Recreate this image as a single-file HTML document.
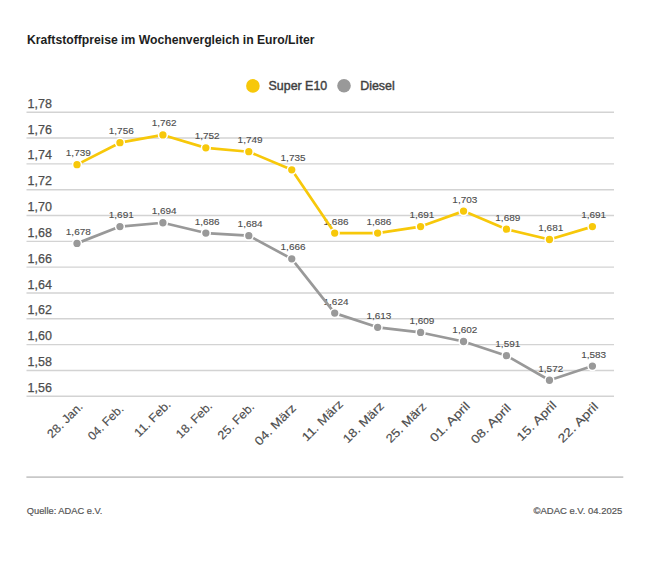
<!DOCTYPE html><html><head><meta charset="utf-8"><style>html,body{margin:0;padding:0;background:#fff;width:650px;height:570px;overflow:hidden}svg{display:block;font-family:"Liberation Sans",sans-serif}</style></head><body>
<svg width="650" height="570" viewBox="0 0 650 570">
<rect width="650" height="570" fill="#fff"/>
<text x="27.0" y="43.8" font-size="12" font-weight="bold" fill="#1e1e1e" textLength="287.5" lengthAdjust="spacingAndGlyphs">Kraftstoffpreise im Wochenvergleich in Euro/Liter</text>
<circle cx="252.9" cy="85.9" r="6.8" fill="#f7c80a"/>
<text x="268.6" y="90.1" font-size="12" fill="#3f3f3f" stroke="#3f3f3f" stroke-width="0.4" textLength="58.6" lengthAdjust="spacingAndGlyphs">Super E10</text>
<circle cx="344" cy="85.8" r="6.8" fill="#999999"/>
<text x="360.2" y="90.1" font-size="12" fill="#3f3f3f" stroke="#3f3f3f" stroke-width="0.4" textLength="34.6" lengthAdjust="spacingAndGlyphs">Diesel</text>
<line x1="26.5" y1="112.25" x2="614" y2="112.25" stroke="#d3d3d3" stroke-width="1.4"/>
<text x="27.6" y="107.80" font-size="12.5" fill="#4d4d4d" stroke="#4d4d4d" stroke-width="0.25">1,78</text>
<line x1="26.5" y1="138.07" x2="614" y2="138.07" stroke="#d3d3d3" stroke-width="1.4"/>
<text x="27.6" y="133.62" font-size="12.5" fill="#4d4d4d" stroke="#4d4d4d" stroke-width="0.25">1,76</text>
<line x1="26.5" y1="163.89" x2="614" y2="163.89" stroke="#d3d3d3" stroke-width="1.4"/>
<text x="27.6" y="159.44" font-size="12.5" fill="#4d4d4d" stroke="#4d4d4d" stroke-width="0.25">1,74</text>
<line x1="26.5" y1="189.71" x2="614" y2="189.71" stroke="#d3d3d3" stroke-width="1.4"/>
<text x="27.6" y="185.26" font-size="12.5" fill="#4d4d4d" stroke="#4d4d4d" stroke-width="0.25">1,72</text>
<line x1="26.5" y1="215.53" x2="614" y2="215.53" stroke="#d3d3d3" stroke-width="1.4"/>
<text x="27.6" y="211.08" font-size="12.5" fill="#4d4d4d" stroke="#4d4d4d" stroke-width="0.25">1,70</text>
<line x1="26.5" y1="241.35" x2="614" y2="241.35" stroke="#d3d3d3" stroke-width="1.4"/>
<text x="27.6" y="236.90" font-size="12.5" fill="#4d4d4d" stroke="#4d4d4d" stroke-width="0.25">1,68</text>
<line x1="26.5" y1="267.17" x2="614" y2="267.17" stroke="#d3d3d3" stroke-width="1.4"/>
<text x="27.6" y="262.72" font-size="12.5" fill="#4d4d4d" stroke="#4d4d4d" stroke-width="0.25">1,66</text>
<line x1="26.5" y1="292.99" x2="614" y2="292.99" stroke="#d3d3d3" stroke-width="1.4"/>
<text x="27.6" y="288.54" font-size="12.5" fill="#4d4d4d" stroke="#4d4d4d" stroke-width="0.25">1,64</text>
<line x1="26.5" y1="318.81" x2="614" y2="318.81" stroke="#d3d3d3" stroke-width="1.4"/>
<text x="27.6" y="314.36" font-size="12.5" fill="#4d4d4d" stroke="#4d4d4d" stroke-width="0.25">1,62</text>
<line x1="26.5" y1="344.63" x2="614" y2="344.63" stroke="#d3d3d3" stroke-width="1.4"/>
<text x="27.6" y="340.18" font-size="12.5" fill="#4d4d4d" stroke="#4d4d4d" stroke-width="0.25">1,60</text>
<line x1="26.5" y1="370.45" x2="614" y2="370.45" stroke="#d3d3d3" stroke-width="1.4"/>
<text x="27.6" y="366.00" font-size="12.5" fill="#4d4d4d" stroke="#4d4d4d" stroke-width="0.25">1,58</text>
<line x1="26.5" y1="396.27" x2="614" y2="396.27" stroke="#d3d3d3" stroke-width="1.4"/>
<text x="27.6" y="391.82" font-size="12.5" fill="#4d4d4d" stroke="#4d4d4d" stroke-width="0.25">1,56</text>
<text x="78.30" y="156.13" font-size="9.2" fill="#4d4d4d" text-anchor="middle" stroke="#4d4d4d" stroke-width="0.12" textLength="25" lengthAdjust="spacingAndGlyphs">1,739</text>
<text x="121.25" y="134.18" font-size="9.2" fill="#4d4d4d" text-anchor="middle" stroke="#4d4d4d" stroke-width="0.12" textLength="25" lengthAdjust="spacingAndGlyphs">1,756</text>
<text x="164.20" y="126.44" font-size="9.2" fill="#4d4d4d" text-anchor="middle" stroke="#4d4d4d" stroke-width="0.12" textLength="25" lengthAdjust="spacingAndGlyphs">1,762</text>
<text x="207.15" y="139.35" font-size="9.2" fill="#4d4d4d" text-anchor="middle" stroke="#4d4d4d" stroke-width="0.12" textLength="25" lengthAdjust="spacingAndGlyphs">1,752</text>
<text x="250.10" y="143.22" font-size="9.2" fill="#4d4d4d" text-anchor="middle" stroke="#4d4d4d" stroke-width="0.12" textLength="25" lengthAdjust="spacingAndGlyphs">1,749</text>
<text x="293.05" y="161.29" font-size="9.2" fill="#4d4d4d" text-anchor="middle" stroke="#4d4d4d" stroke-width="0.12" textLength="25" lengthAdjust="spacingAndGlyphs">1,735</text>
<text x="336.00" y="224.55" font-size="9.2" fill="#4d4d4d" text-anchor="middle" stroke="#4d4d4d" stroke-width="0.12" textLength="25" lengthAdjust="spacingAndGlyphs">1,686</text>
<text x="378.95" y="224.55" font-size="9.2" fill="#4d4d4d" text-anchor="middle" stroke="#4d4d4d" stroke-width="0.12" textLength="25" lengthAdjust="spacingAndGlyphs">1,686</text>
<text x="421.90" y="218.10" font-size="9.2" fill="#4d4d4d" text-anchor="middle" stroke="#4d4d4d" stroke-width="0.12" textLength="25" lengthAdjust="spacingAndGlyphs">1,691</text>
<text x="464.85" y="202.61" font-size="9.2" fill="#4d4d4d" text-anchor="middle" stroke="#4d4d4d" stroke-width="0.12" textLength="25" lengthAdjust="spacingAndGlyphs">1,703</text>
<text x="507.80" y="220.68" font-size="9.2" fill="#4d4d4d" text-anchor="middle" stroke="#4d4d4d" stroke-width="0.12" textLength="25" lengthAdjust="spacingAndGlyphs">1,689</text>
<text x="550.75" y="231.01" font-size="9.2" fill="#4d4d4d" text-anchor="middle" stroke="#4d4d4d" stroke-width="0.12" textLength="25" lengthAdjust="spacingAndGlyphs">1,681</text>
<text x="593.70" y="218.10" font-size="9.2" fill="#4d4d4d" text-anchor="middle" stroke="#4d4d4d" stroke-width="0.12" textLength="25" lengthAdjust="spacingAndGlyphs">1,691</text>
<text x="78.30" y="234.88" font-size="9.2" fill="#4d4d4d" text-anchor="middle" stroke="#4d4d4d" stroke-width="0.12" textLength="25" lengthAdjust="spacingAndGlyphs">1,678</text>
<text x="121.25" y="218.10" font-size="9.2" fill="#4d4d4d" text-anchor="middle" stroke="#4d4d4d" stroke-width="0.12" textLength="25" lengthAdjust="spacingAndGlyphs">1,691</text>
<text x="164.20" y="214.23" font-size="9.2" fill="#4d4d4d" text-anchor="middle" stroke="#4d4d4d" stroke-width="0.12" textLength="25" lengthAdjust="spacingAndGlyphs">1,694</text>
<text x="207.15" y="224.55" font-size="9.2" fill="#4d4d4d" text-anchor="middle" stroke="#4d4d4d" stroke-width="0.12" textLength="25" lengthAdjust="spacingAndGlyphs">1,686</text>
<text x="250.10" y="227.14" font-size="9.2" fill="#4d4d4d" text-anchor="middle" stroke="#4d4d4d" stroke-width="0.12" textLength="25" lengthAdjust="spacingAndGlyphs">1,684</text>
<text x="293.05" y="250.37" font-size="9.2" fill="#4d4d4d" text-anchor="middle" stroke="#4d4d4d" stroke-width="0.12" textLength="25" lengthAdjust="spacingAndGlyphs">1,666</text>
<text x="336.00" y="304.60" font-size="9.2" fill="#4d4d4d" text-anchor="middle" stroke="#4d4d4d" stroke-width="0.12" textLength="25" lengthAdjust="spacingAndGlyphs">1,624</text>
<text x="378.95" y="318.80" font-size="9.2" fill="#4d4d4d" text-anchor="middle" stroke="#4d4d4d" stroke-width="0.12" textLength="25" lengthAdjust="spacingAndGlyphs">1,613</text>
<text x="421.90" y="323.96" font-size="9.2" fill="#4d4d4d" text-anchor="middle" stroke="#4d4d4d" stroke-width="0.12" textLength="25" lengthAdjust="spacingAndGlyphs">1,609</text>
<text x="464.85" y="333.00" font-size="9.2" fill="#4d4d4d" text-anchor="middle" stroke="#4d4d4d" stroke-width="0.12" textLength="25" lengthAdjust="spacingAndGlyphs">1,602</text>
<text x="507.80" y="347.20" font-size="9.2" fill="#4d4d4d" text-anchor="middle" stroke="#4d4d4d" stroke-width="0.12" textLength="25" lengthAdjust="spacingAndGlyphs">1,591</text>
<text x="550.75" y="371.73" font-size="9.2" fill="#4d4d4d" text-anchor="middle" stroke="#4d4d4d" stroke-width="0.12" textLength="25" lengthAdjust="spacingAndGlyphs">1,572</text>
<text x="593.70" y="357.53" font-size="9.2" fill="#4d4d4d" text-anchor="middle" stroke="#4d4d4d" stroke-width="0.12" textLength="25" lengthAdjust="spacingAndGlyphs">1,583</text>
<polyline points="77.00,164.63 119.95,142.68 162.90,134.94 205.85,147.85 248.80,151.72 291.75,169.79 334.70,233.05 377.65,233.05 420.60,226.60 463.55,211.11 506.50,229.18 549.45,239.51 592.40,226.60" fill="none" stroke="#f7c80a" stroke-width="2.7" stroke-linejoin="round"/>
<circle cx="77.00" cy="164.63" r="4.4" fill="#f7c80a" stroke="#fff" stroke-width="1.5"/>
<circle cx="119.95" cy="142.68" r="4.4" fill="#f7c80a" stroke="#fff" stroke-width="1.5"/>
<circle cx="162.90" cy="134.94" r="4.4" fill="#f7c80a" stroke="#fff" stroke-width="1.5"/>
<circle cx="205.85" cy="147.85" r="4.4" fill="#f7c80a" stroke="#fff" stroke-width="1.5"/>
<circle cx="248.80" cy="151.72" r="4.4" fill="#f7c80a" stroke="#fff" stroke-width="1.5"/>
<circle cx="291.75" cy="169.79" r="4.4" fill="#f7c80a" stroke="#fff" stroke-width="1.5"/>
<circle cx="334.70" cy="233.05" r="4.4" fill="#f7c80a" stroke="#fff" stroke-width="1.5"/>
<circle cx="377.65" cy="233.05" r="4.4" fill="#f7c80a" stroke="#fff" stroke-width="1.5"/>
<circle cx="420.60" cy="226.60" r="4.4" fill="#f7c80a" stroke="#fff" stroke-width="1.5"/>
<circle cx="463.55" cy="211.11" r="4.4" fill="#f7c80a" stroke="#fff" stroke-width="1.5"/>
<circle cx="506.50" cy="229.18" r="4.4" fill="#f7c80a" stroke="#fff" stroke-width="1.5"/>
<circle cx="549.45" cy="239.51" r="4.4" fill="#f7c80a" stroke="#fff" stroke-width="1.5"/>
<circle cx="592.40" cy="226.60" r="4.4" fill="#f7c80a" stroke="#fff" stroke-width="1.5"/>
<polyline points="77.00,243.38 119.95,226.60 162.90,222.73 205.85,233.05 248.80,235.64 291.75,258.87 334.70,313.10 377.65,327.30 420.60,332.46 463.55,341.50 506.50,355.70 549.45,380.23 592.40,366.03" fill="none" stroke="#999999" stroke-width="2.7" stroke-linejoin="round"/>
<circle cx="77.00" cy="243.38" r="4.4" fill="#999999" stroke="#fff" stroke-width="1.5"/>
<circle cx="119.95" cy="226.60" r="4.4" fill="#999999" stroke="#fff" stroke-width="1.5"/>
<circle cx="162.90" cy="222.73" r="4.4" fill="#999999" stroke="#fff" stroke-width="1.5"/>
<circle cx="205.85" cy="233.05" r="4.4" fill="#999999" stroke="#fff" stroke-width="1.5"/>
<circle cx="248.80" cy="235.64" r="4.4" fill="#999999" stroke="#fff" stroke-width="1.5"/>
<circle cx="291.75" cy="258.87" r="4.4" fill="#999999" stroke="#fff" stroke-width="1.5"/>
<circle cx="334.70" cy="313.10" r="4.4" fill="#999999" stroke="#fff" stroke-width="1.5"/>
<circle cx="377.65" cy="327.30" r="4.4" fill="#999999" stroke="#fff" stroke-width="1.5"/>
<circle cx="420.60" cy="332.46" r="4.4" fill="#999999" stroke="#fff" stroke-width="1.5"/>
<circle cx="463.55" cy="341.50" r="4.4" fill="#999999" stroke="#fff" stroke-width="1.5"/>
<circle cx="506.50" cy="355.70" r="4.4" fill="#999999" stroke="#fff" stroke-width="1.5"/>
<circle cx="549.45" cy="380.23" r="4.4" fill="#999999" stroke="#fff" stroke-width="1.5"/>
<circle cx="592.40" cy="366.03" r="4.4" fill="#999999" stroke="#fff" stroke-width="1.5"/>
<text x="83.55" y="407.35" font-size="12" fill="#4d4d4d" stroke="#4d4d4d" stroke-width="0.15" text-anchor="end" textLength="44.54" lengthAdjust="spacingAndGlyphs" transform="rotate(-45 83.55 407.35)">28. Jan.</text>
<text x="124.30" y="409.55" font-size="12" fill="#4d4d4d" stroke="#4d4d4d" stroke-width="0.15" text-anchor="end" textLength="44.60" lengthAdjust="spacingAndGlyphs" transform="rotate(-45 124.30 409.55)">04. Feb.</text>
<text x="171.65" y="405.15" font-size="12" fill="#4d4d4d" stroke="#4d4d4d" stroke-width="0.15" text-anchor="end" textLength="46.04" lengthAdjust="spacingAndGlyphs" transform="rotate(-45 171.65 405.15)">11. Feb.</text>
<text x="213.00" y="406.75" font-size="12" fill="#4d4d4d" stroke="#4d4d4d" stroke-width="0.15" text-anchor="end" textLength="45.59" lengthAdjust="spacingAndGlyphs" transform="rotate(-45 213.00 406.75)">18. Feb.</text>
<text x="255.05" y="407.65" font-size="12" fill="#4d4d4d" stroke="#4d4d4d" stroke-width="0.15" text-anchor="end" textLength="45.94" lengthAdjust="spacingAndGlyphs" transform="rotate(-45 255.05 407.65)">25. Feb.</text>
<text x="296.80" y="408.85" font-size="12" fill="#4d4d4d" stroke="#4d4d4d" stroke-width="0.15" text-anchor="end" textLength="52.77" lengthAdjust="spacingAndGlyphs" transform="rotate(-45 296.80 408.85)">04. März</text>
<text x="343.85" y="404.75" font-size="12" fill="#4d4d4d" stroke="#4d4d4d" stroke-width="0.15" text-anchor="end" textLength="52.51" lengthAdjust="spacingAndGlyphs" transform="rotate(-45 343.85 404.75)">11. März</text>
<text x="384.90" y="406.65" font-size="12" fill="#4d4d4d" stroke="#4d4d4d" stroke-width="0.15" text-anchor="end" textLength="52.49" lengthAdjust="spacingAndGlyphs" transform="rotate(-45 384.90 406.65)">18. März</text>
<text x="427.10" y="407.40" font-size="12" fill="#4d4d4d" stroke="#4d4d4d" stroke-width="0.15" text-anchor="end" textLength="51.21" lengthAdjust="spacingAndGlyphs" transform="rotate(-45 427.10 407.40)">25. März</text>
<text x="470.70" y="406.75" font-size="12" fill="#4d4d4d" stroke="#4d4d4d" stroke-width="0.15" text-anchor="end" textLength="51.00" lengthAdjust="spacingAndGlyphs" transform="rotate(-45 470.70 406.75)">01. April</text>
<text x="511.70" y="408.70" font-size="12" fill="#4d4d4d" stroke="#4d4d4d" stroke-width="0.15" text-anchor="end" textLength="50.78" lengthAdjust="spacingAndGlyphs" transform="rotate(-45 511.70 408.70)">08. April</text>
<text x="557.25" y="406.10" font-size="12" fill="#4d4d4d" stroke="#4d4d4d" stroke-width="0.15" text-anchor="end" textLength="50.57" lengthAdjust="spacingAndGlyphs" transform="rotate(-45 557.25 406.10)">15. April</text>
<text x="599.00" y="407.30" font-size="12" fill="#4d4d4d" stroke="#4d4d4d" stroke-width="0.15" text-anchor="end" textLength="51.21" lengthAdjust="spacingAndGlyphs" transform="rotate(-45 599.00 407.30)">22. April</text>
<line x1="26.4" y1="477.1" x2="623.3" y2="477.1" stroke="#c8c8c8" stroke-width="1.6"/>
<text x="26.8" y="513.7" font-size="9.6" fill="#555" stroke="#555" stroke-width="0.2" textLength="75.6" lengthAdjust="spacingAndGlyphs">Quelle: ADAC e.V.</text>
<text x="622.2" y="513.7" font-size="9.6" fill="#555" stroke="#555" stroke-width="0.2" text-anchor="end" textLength="88.6" lengthAdjust="spacingAndGlyphs">©ADAC e.V. 04.2025</text>
</svg></body></html>
